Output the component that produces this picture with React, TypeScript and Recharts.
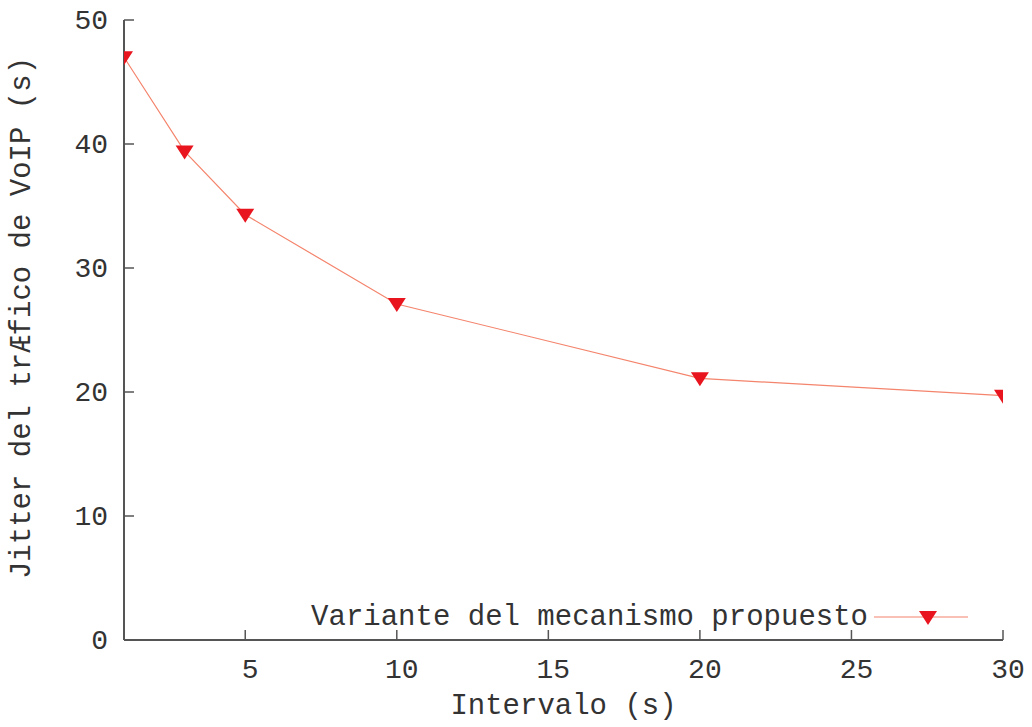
import { LineChart, Line, XAxis, YAxis, Legend, Label } from 'recharts'

const intervals = [1, 3, 5, 10, 20, 30]
const jitter = [47, 39.4, 34.3, 27.1, 21.1, 19.7]
const xTicks = [5, 10, 15, 20, 25, 30]
const yTicks = [0, 10, 20, 30, 40, 50]
const seriesName = 'Variante del mecanismo propuesto'

const data = intervals.map((x, i) => ({ x, y: jitter[i] }))

const FONT = '"Liberation Mono", "DejaVu Sans Mono", monospace'
const FRAME = '#555'
const TEXT = '#333'
const LINE = '#f4846c'
const MARK = '#e8151f'

const tri = (cx: number, cy: number) =>
  `${cx - 9},${cy - 6} ${cx + 9},${cy - 6} ${cx},${cy + 8}`

function BottomTick({ x, y, payload }: any) {
  return (
    <g>
      <line x1={x} y1={y} x2={x} y2={y - 10} stroke={FRAME} strokeWidth={1.5} />
      <text x={x + 5} y={y + 38} textAnchor="middle" fontFamily={FONT} fontSize={28} fill={TEXT}>
        {payload.value}
      </text>
    </g>
  )
}

function LeftTick({ x, y, payload }: any) {
  return (
    <g>
      <line x1={x} y1={y} x2={x + 10} y2={y} stroke={FRAME} strokeWidth={1.5} />
      <text x={x - 16} y={y + 9} textAnchor="end" fontFamily={FONT} fontSize={28} fill={TEXT}>
        {payload.value}
      </text>
    </g>
  )
}

const TopTick = ({ x, y }: any) => (
  <line x1={x} y1={y} x2={x} y2={y + 10} stroke={FRAME} strokeWidth={1.5} />
)

const RightTick = ({ x, y }: any) => (
  <line x1={x} y1={y} x2={x - 10} y2={y} stroke={FRAME} strokeWidth={1.5} />
)

const Marker = (p: any) => <polygon key={p.index} points={tri(p.cx, p.cy)} fill={MARK} />

function LegendBox() {
  return (
    <svg width={700} height={50}>
      <text x={588} y={28} textAnchor="end" fontFamily={FONT} fontSize={29} fill={TEXT}>
        {seriesName}
      </text>
      <line x1={594} y1={20} x2={688} y2={20} stroke={LINE} strokeWidth={1.2} />
      <polygon points={tri(648, 20)} fill={MARK} />
    </svg>
  )
}

export default function App() {
  return (
    <div style={{ position: 'absolute', left: 0, top: 0, background: '#fff' }}>
      <LineChart
        width={1032}
        height={727}
        data={data}
        margin={{ top: 20, right: 29, left: 0, bottom: 0 }}
      >
        <XAxis
          dataKey="x"
          type="number"
          domain={[1, 30]}
          ticks={xTicks}
          allowDataOverflow
          height={87}
          tickSize={0}
          tickMargin={0}
          tickLine={false}
          axisLine={{ stroke: FRAME, strokeWidth: 2 }}
          tick={BottomTick}
        >
          <Label
            value="Intervalo (s)"
            position="insideBottom"
            offset={13}
            style={{ fontFamily: FONT, fontSize: 29, fill: TEXT }}
          />
        </XAxis>
        <XAxis
          xAxisId="top"
          orientation="top"
          type="number"
          domain={[1, 30]}
          ticks={xTicks}
          allowDataOverflow
          height={0}
          tickSize={0}
          tickMargin={0}
          tickLine={false}
          axisLine={{ stroke: FRAME, strokeWidth: 2 }}
          tick={TopTick}
        />
        <YAxis
          type="number"
          domain={[0, 50]}
          ticks={yTicks}
          allowDataOverflow
          width={124}
          tickSize={0}
          tickMargin={0}
          tickLine={false}
          axisLine={{ stroke: FRAME, strokeWidth: 2 }}
          tick={LeftTick}
        >
          <Label
            content={({ viewBox }: any) => {
              const cx = viewBox.x + 22
              const cy = viewBox.y + viewBox.height / 2 - 12
              return (
                <text
                  x={cx}
                  y={cy}
                  transform={`rotate(-90 ${cx} ${cy})`}
                  textAnchor="middle"
                  dominantBaseline="central"
                  fontFamily={FONT}
                  fontSize={29}
                  fill={TEXT}
                >
                  Jitter del trÆfico de VoIP (s)
                </text>
              )
            }}
          />
        </YAxis>
        <YAxis
          yAxisId="right"
          orientation="right"
          type="number"
          domain={[0, 50]}
          ticks={yTicks}
          allowDataOverflow
          width={0}
          tickSize={0}
          tickMargin={0}
          tickLine={false}
          axisLine={{ stroke: FRAME, strokeWidth: 2 }}
          tick={RightTick}
        />
        <Legend
          layout="horizontal"
          verticalAlign="middle"
          align="center"
          content={LegendBox}
          wrapperStyle={{ left: 280, top: 597, width: 700, height: 50 }}
        />
        <Line
          type="linear"
          dataKey="y"
          name={seriesName}
          stroke={LINE}
          strokeWidth={1.2}
          dot={Marker}
          activeDot={false}
          isAnimationActive={false}
        />
      </LineChart>
    </div>
  )
}
